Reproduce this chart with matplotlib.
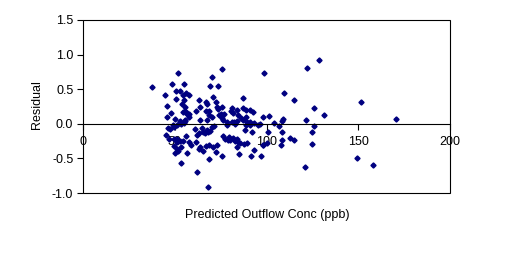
import matplotlib.pyplot as plt
from matplotlib.patches import Rectangle

# predicted outflow concentration (ppb) and residuals
pred = [37.4, 44.5, 45.6, 45.6, 48.3, 47.8, 50.5, 50.5, 51.6, 52.9, 54.0, 54.5, 54.9, 55.0,
        54.7, 56.1, 57.8, 55.7, 56.5, 57.8, 56.8, 50.1, 52.9, 55.4, 61.6, 63.1, 63.8, 63.6,
        67.4, 67.0, 68.5, 69.2, 70.1, 70.7, 68.5, 70.1, 67.4, 72.3, 73.4, 72.9, 73.7, 75.6,
        75.6, 75.0, 75.6, 76.5, 77.0, 78.3, 81.0, 80.5, 81.9, 81.0, 84.1, 83.8, 87.0, 87.4,
        88.8, 87.4, 91.0, 92.5, 89.2, 91.0, 93.2, 95.5, 97.9, 98.5, 101.2, 103.9, 106.6, 108.3,
        108.8, 109.4, 114.8, 122.1, 128.4, 121.4, 125.7, 131.3, 125.7, 151.5, 170.4,
        100.7, 108.3, 108.3, 107.7, 112.6, 114.8, 124.6, 124.6, 121.0, 149.5, 158.0, 97.9,
        93.2, 97.0, 91.4,
        46.5, 47.4, 49.8, 51.1, 45.1, 47.0, 51.4, 56.1, 49.8, 51.1, 50.1, 53.4, 53.4, 56.5,
        57.9, 58.9, 61.6, 62.0, 64.7, 63.8, 65.6, 67.0, 68.8, 70.7, 72.9, 68.5, 62.0, 68.1,
        72.5, 75.6, 76.1, 77.4, 78.9, 81.9, 84.6, 83.8, 85.0, 87.7, 89.2, 98.3, 88.3,
        63.1, 65.6, 66.5, 67.7, 68.3, 69.2, 70.1, 71.6, 80.1, 82.8, 83.8, 85.6, 100.4,
        78.3, 82.7, 82.3, 88.8, 91.0, 96.5, 57.8, 67.0, 84.6, 88.7, 52.9, 55.2, 55.7, 53.2,
        49.8, 51.1, 52.9, 54.3, 52.0, 63.2, 48.9, 55.4, 60.8, 74.0, 79.5, 86.0, 92.0]
resid = [0.535, 0.42, 0.26, 0.105, 0.58, 0.16, 0.48, 0.365, 0.73, 0.47, 0.29, 0.17, 0.57, 0.35,
         0.42, 0.45, 0.42, 0.24, 0.145, 0.10, 0.155, 0.07, 0.04, 0.06, 0.19, 0.35, 0.25, 0.06,
         0.29, 0.31, 0.19, 0.54, 0.68, 0.39, 0.125, 0.105, 0.05, 0.32, 0.55, 0.24, 0.21, 0.79,
         0.24, 0.145, 0.08, 0.06, 0.145, 0.02, 0.23, 0.19, 0.16, 0.03, 0.20, 0.04, 0.375, 0.23,
         0.20, 0.06, 0.20, 0.17, 0.03, 0.02, 0.01, -0.015, 0.10, 0.74, 0.115, 0.005, -0.025, 0.04,
         0.07, 0.45, 0.34, 0.81, 0.92, 0.05, 0.235, 0.12, -0.025, 0.31, 0.075,
         -0.125, -0.125, -0.23, -0.31, -0.21, -0.23, -0.125, -0.285, -0.62, -0.49, -0.60, -0.31,
         -0.385, -0.47, -0.47,
         -0.06, -0.08, -0.04, -0.015, -0.16, -0.22, -0.27, -0.17, -0.32, -0.36, -0.42, -0.34, -0.57, -0.42,
         -0.26, -0.30, -0.27, -0.16, -0.06, -0.33, -0.40, -0.32, -0.30, -0.33, -0.30, -0.51, -0.70, -0.91,
         -0.41, -0.46, -0.17, -0.22, -0.24, -0.21, -0.27, -0.34, -0.44, -0.29, -0.28, -0.30, -0.09,
         -0.135, -0.115, -0.135, -0.09, -0.125, -0.10, -0.05, -0.03, -0.23, -0.255, -0.22, -0.28, -0.28,
         -0.015, 0.0, 0.03, -0.015, -0.015, 0.0, 0.145, 0.18, 0.13, 0.105, 0.02, 0.01, 0.04, 0.0,
         -0.22, -0.22, -0.25, -0.255, -0.40, -0.36, -0.015, 0.19, -0.07, 0.12, -0.19, 0.09, -0.12]

plt.rcParams['font.family'] = ['Liberation Sans', 'DejaVu Sans']

fig = plt.figure(figsize=(5.11, 2.57), dpi=100)
ax = fig.add_axes([83/511, 1 - 193/257, 367/511, 173/257])

ax.plot(pred, resid, linestyle="none", marker="D", markersize=2.6, color="#000080")

ax.set_xlim(0, 200)
ax.set_ylim(-1.0, 1.5)
ax.set_xticks([0, 50, 100, 150, 200])
ax.set_yticks([-1.0, -0.5, 0.0, 0.5, 1.0, 1.5])
ax.set_yticklabels(["-1.0", "-0.5", "0.0", "0.5", "1.0", "1.5"])

# x axis crosses at residual 0, box drawn around plot area
for s in ["top", "right", "left"]:
    ax.spines[s].set_visible(False)
ax.spines["bottom"].set_position(("data", 0))
ax.spines["bottom"].set_linewidth(0.8)
ax.add_patch(Rectangle((0, 0), 1, 1, transform=ax.transAxes, fill=False,
                       lw=0.8, edgecolor="black", clip_on=False))

ax.tick_params(axis="both", direction="out", length=4, width=0.8, labelsize=9)
ax.tick_params(axis="x", pad=5)
ax.tick_params(axis="y", pad=3)

fig.text(267/511, 1 - 215/257, "Predicted Outflow Conc (ppb)", ha="center", va="center", fontsize=9)
fig.text(37/511, 1 - 105/257, "Residual", ha="center", va="center", rotation=90, fontsize=9)

fig.savefig("out.png", dpi=100)
